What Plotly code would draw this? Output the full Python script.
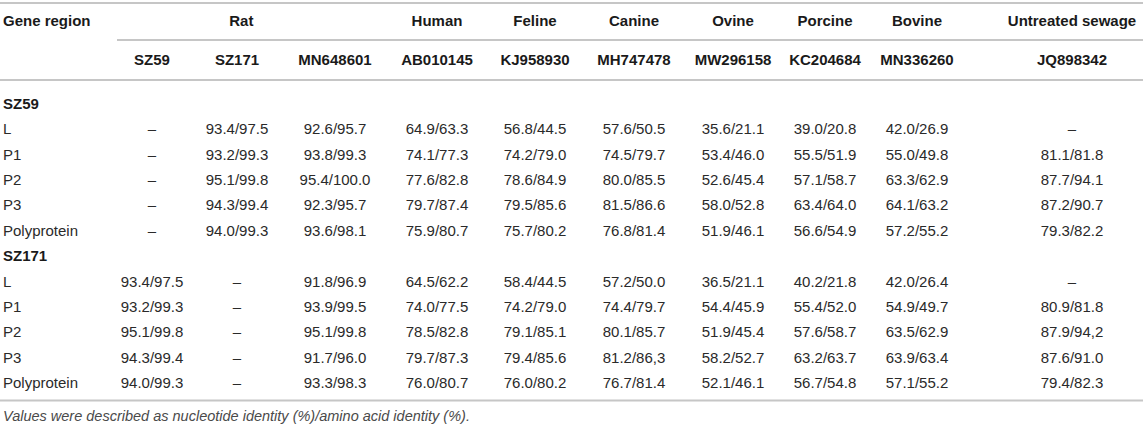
import plotly.graph_objects as go

# table content
hosts = ["Rat", "Human", "Feline", "Canine", "Ovine", "Porcine", "Bovine", "Untreated sewage"]
host_span = [3, 1, 1, 1, 1, 1, 1, 1]
strains = ["SZ59", "SZ171", "MN648601", "AB010145", "KJ958930", "MH747478",
           "MW296158", "KC204684", "MN336260", "JQ898342"]
regions = ["L", "P1", "P2", "P3", "Polyprotein"]
groups = ["SZ59", "SZ171"]

sz59_vals = [
    ["–", "93.4/97.5", "92.6/95.7", "64.9/63.3", "56.8/44.5", "57.6/50.5", "35.6/21.1", "39.0/20.8", "42.0/26.9", "–"],
    ["–", "93.2/99.3", "93.8/99.3", "74.1/77.3", "74.2/79.0", "74.5/79.7", "53.4/46.0", "55.5/51.9", "55.0/49.8", "81.1/81.8"],
    ["–", "95.1/99.8", "95.4/100.0", "77.6/82.8", "78.6/84.9", "80.0/85.5", "52.6/45.4", "57.1/58.7", "63.3/62.9", "87.7/94.1"],
    ["–", "94.3/99.4", "92.3/95.7", "79.7/87.4", "79.5/85.6", "81.5/86.6", "58.0/52.8", "63.4/64.0", "64.1/63.2", "87.2/90.7"],
    ["–", "94.0/99.3", "93.6/98.1", "75.9/80.7", "75.7/80.2", "76.8/81.4", "51.9/46.1", "56.6/54.9", "57.2/55.2", "79.3/82.2"],
]
sz171_vals = [
    ["93.4/97.5", "–", "91.8/96.9", "64.5/62.2", "58.4/44.5", "57.2/50.0", "36.5/21.1", "40.2/21.8", "42.0/26.4", "–"],
    ["93.2/99.3", "–", "93.9/99.5", "74.0/77.5", "74.2/79.0", "74.4/79.7", "54.4/45.9", "55.4/52.0", "54.9/49.7", "80.9/81.8"],
    ["95.1/99.8", "–", "95.1/99.8", "78.5/82.8", "79.1/85.1", "80.1/85.7", "51.9/45.4", "57.6/58.7", "63.5/62.9", "87.9/94,2"],
    ["94.3/99.4", "–", "91.7/96.0", "79.7/87.3", "79.4/85.6", "81.2/86,3", "58.2/52.7", "63.2/63.7", "63.9/63.4", "87.6/91.0"],
    ["94.0/99.3", "–", "93.3/98.3", "76.0/80.7", "76.0/80.2", "76.7/81.4", "52.1/46.1", "56.7/54.8", "57.1/55.2", "79.4/82.3"],
]
footnote = "Values were described as nucleotide identity (%)/amino acid identity (%)."

# layout in pixels
W, H = 1143, 442
col_x = [152, 237, 335, 437, 535, 634, 733, 825, 917, 1072]
x_left = 3
y_head1, y_head2 = 22, 61
y_first, row_h = 105, 25.4
txt_col = "#2a2a2a"
head_col = "#1a1a1a"
line_col = "#c6c6c6"
FONT = "Liberation Sans, Arial, Helvetica, sans-serif"
fs = 15

fig = go.Figure()

def add_text(xs, ys, texts, pos="middle center", color=txt_col, size=fs):
    fig.add_trace(go.Scatter(x=xs, y=ys, text=texts, mode="text", textposition=pos,
                             textfont=dict(family=FONT, size=size, color=color),
                             cliponaxis=False, hoverinfo="skip", showlegend=False))

# header row 1
hx = []
i = 0
for span in host_span:
    hx.append(sum(col_x[i:i + span]) / span)
    i += span
add_text([x_left], [y_head1], ["<b>Gene region</b>"], pos="middle right", color=head_col)
add_text(hx, [y_head1] * len(hosts), ["<b>%s</b>" % h for h in hosts], color=head_col)

# header row 2
add_text(col_x, [y_head2] * len(strains), ["<b>%s</b>" % s for s in strains], color=head_col)

# body
y = y_first
for g, vals in zip(groups, [sz59_vals, sz171_vals]):
    add_text([x_left], [y], ["<b>%s</b>" % g], pos="middle right", color=head_col)
    y += row_h
    for reg, row in zip(regions, vals):
        add_text([x_left], [y], [reg], pos="middle right")
        add_text(col_x, [y] * len(row), row)
        y += row_h

y_bottom = y - row_h + 16
add_text([x_left], [y_bottom + 17], ["<i>%s</i>" % footnote], pos="middle right", color="#4a4a4a", size=14.5)

# rules
shapes = []
for (x0, yy) in [(0, 3), (117, 40), (0, 80), (0, y_bottom)]:
    shapes.append(dict(type="line", xref="x", yref="y", x0=x0, x1=W, y0=yy, y1=yy,
                       line=dict(color=line_col, width=2)))

fig.update_layout(
    width=W, height=H,
    margin=dict(l=0, r=0, t=0, b=0),
    paper_bgcolor="white", plot_bgcolor="white",
    xaxis=dict(range=[0, W], visible=False, fixedrange=True),
    yaxis=dict(range=[H, 0], visible=False, fixedrange=True),
    shapes=shapes,
)

# drop the default 8px page margin so the figure sits at the window corner
fig.write_html("out.html", config={"displayModeBar": False},
               post_script="document.body.style.margin='0';")
